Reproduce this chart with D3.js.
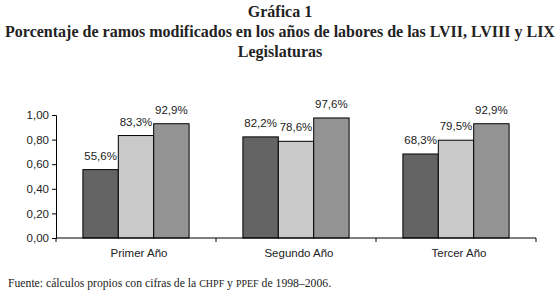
<!DOCTYPE html>
<html><head><meta charset="utf-8">
<script src="https://cdn.jsdelivr.net/npm/d3@7"></script>
<style>body{margin:0;background:#fff}svg{display:block}</style>
</head><body>
<script>
const categories = ["Primer Año", "Segundo Año", "Tercer Año"];
const series = ["LVII", "LVIII", "LIX"];
const valuesLVII = [0.556, 0.822, 0.683];
const valuesLVIII = [0.833, 0.786, 0.795];
const valuesLIX = [0.929, 0.976, 0.929];
const labelsLVII = ["55,6%", "82,2%", "68,3%"];
const labelsLVIII = ["83,3%", "78,6%", "79,5%"];
const labelsLIX = ["92,9%", "97,6%", "92,9%"];
const yTicks = [0, 0.2, 0.4, 0.6, 0.8, 1.0];
const colors = ["#646464", "#c9c9c9", "#939393"];

const W = 560, H = 297;
const svg = d3.select("body").append("svg").attr("width", W).attr("height", H);

const x0 = d3.scaleBand().domain(categories).range([56, 536]).paddingInner(0).paddingOuter(0);
const x1 = d3.scaleBand().domain(series).range([0, x0.bandwidth()]).paddingOuter(0.76).paddingInner(0);
const y = d3.scaleLinear().domain([0, 1]).range([238, 115]);

const seriesVals = [valuesLVII, valuesLVIII, valuesLIX];
const seriesLabels = [labelsLVII, labelsLVIII, labelsLIX];

// titles
const tf = "'Liberation Serif', 'DejaVu Serif', serif";
svg.append("text").attr("x", 280).attr("y", 17).attr("text-anchor", "middle")
  .attr("font-family", tf).attr("font-size", 16).attr("font-weight", "bold").attr("fill", "#222").text("Gráfica 1");
svg.append("text").attr("x", 280).attr("y", 37).attr("text-anchor", "middle")
  .attr("font-family", tf).attr("font-size", 16).attr("font-weight", "bold").attr("fill", "#222")
  .text("Porcentaje de ramos modificados en los años de labores de las LVII, LVIII y LIX");
svg.append("text").attr("x", 280).attr("y", 57).attr("text-anchor", "middle")
  .attr("font-family", tf).attr("font-size", 16).attr("font-weight", "bold").attr("fill", "#222").text("Legislaturas");

// bars
const g = svg.append("g");
categories.forEach((c, ci) => {
  series.forEach((s, si) => {
    const v = seriesVals[si][ci];
    g.append("rect")
      .attr("x", x0(c) + x1(s)).attr("y", y(v))
      .attr("width", x1.bandwidth()).attr("height", y(0) - y(v))
      .attr("fill", colors[si]).attr("stroke", "#000").attr("stroke-width", 1);
    g.append("text")
      .attr("x", x0(c) + x1(s) + x1.bandwidth() / 2).attr("y", y(v) - 10)
      .attr("text-anchor", "middle").attr("font-family", "'Liberation Sans', Arial, sans-serif")
      .attr("font-size", 11.5).attr("fill", "#222").text(seriesLabels[si][ci]);
  });
});

// y axis
const yAxis = d3.axisLeft(y).tickValues(yTicks).tickSize(4).tickFormat(d => d3.format(".2f")(d).replace(".", ","));
const ya = svg.append("g").attr("transform", "translate(56,0)").call(yAxis);
ya.selectAll("text").attr("font-family", "'Liberation Sans', Arial, sans-serif").attr("font-size", 11.5).attr("fill", "#222");
ya.selectAll("line,path").attr("stroke", "#000");

// x axis
const xa = svg.append("g").attr("transform", "translate(0,238)");
xa.append("line").attr("x1", 56).attr("x2", 536).attr("stroke", "#000");
const bounds = [x0.range()[0]].concat(categories.map(c => x0(c) + x0.bandwidth()));
bounds.forEach(b => xa.append("line").attr("x1", b).attr("x2", b).attr("y1", 0).attr("y2", 4).attr("stroke", "#000"));
categories.forEach(c => xa.append("text").attr("x", x0(c) + x0.bandwidth() / 2 + 3).attr("y", 19)
  .attr("text-anchor", "middle").attr("font-family", "'Liberation Sans', Arial, sans-serif")
  .attr("font-size", 11.5).attr("fill", "#222").text(c));

// footnote
const fn = svg.append("text").attr("x", 8).attr("y", 287).attr("font-family", tf).attr("font-size", 11.7).attr("fill", "#222");
fn.append("tspan").text("Fuente: cálculos propios con cifras de la ");
fn.append("tspan").attr("font-size", 10).text("CHPF");
fn.append("tspan").text(" y ");
fn.append("tspan").attr("font-size", 10).text("PPEF");
fn.append("tspan").text(" de 1998–2006.");
</script>
</body></html>
